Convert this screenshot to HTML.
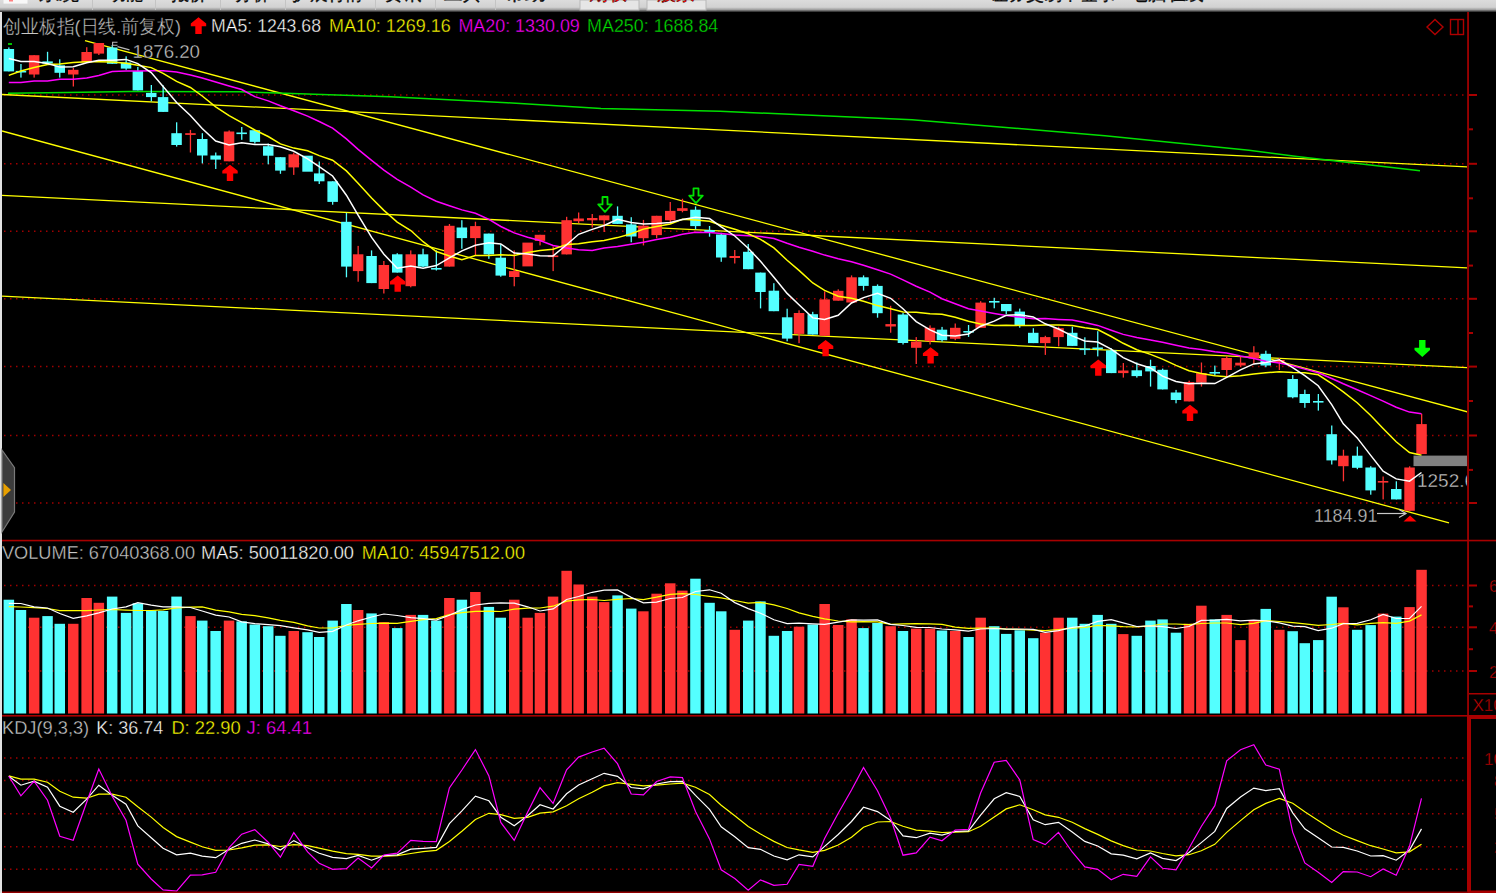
<!DOCTYPE html>
<html><head><meta charset="utf-8"><style>
html,body{margin:0;padding:0;background:#000;width:1496px;height:893px;overflow:hidden}
svg{display:block}
text{font-family:"Liberation Sans",sans-serif;stroke:#000;stroke-width:0.35px}
</style></head><body>
<svg width="1496" height="893" viewBox="0 0 1496 893">
<rect width="1496" height="893" fill="#000"/>
<defs><linearGradient id="mb" x1="0" y1="0" x2="0" y2="1"><stop offset="0" stop-color="#dcdcdc"/><stop offset="0.6" stop-color="#d2d2d2"/><stop offset="0.8" stop-color="#a0a0a0"/><stop offset="1" stop-color="#202020"/></linearGradient><clipPath id="mbclip"><rect x="0" y="0" width="1496" height="12"/></clipPath><clipPath id="main"><rect x="2" y="12" width="1465" height="528"/></clipPath><clipPath id="vol"><rect x="2" y="541" width="1465" height="174"/></clipPath><clipPath id="kdj"><rect x="2" y="717" width="1465" height="176"/></clipPath></defs>
<rect x="0" y="0" width="1496" height="12" fill="url(#mb)"/>
<g clip-path="url(#mbclip)">
<rect x="3.5" y="0" width="24" height="3.6" fill="#f8f8f8"/><rect x="9" y="0" width="4" height="1.5" fill="#ff8080"/>
<text x="39" y="0.3" fill="#111" font-size="18" textLength="40" lengthAdjust="spacingAndGlyphs">系统</text>
<text x="109" y="0.3" fill="#111" font-size="18" textLength="34" lengthAdjust="spacingAndGlyphs">功能</text>
<text x="171" y="0.3" fill="#111" font-size="18" textLength="36" lengthAdjust="spacingAndGlyphs">报价</text>
<text x="235" y="0.3" fill="#111" font-size="18" textLength="34" lengthAdjust="spacingAndGlyphs">分析</text>
<text x="292" y="0.3" fill="#111" font-size="18" textLength="71" lengthAdjust="spacingAndGlyphs">扩展行情</text>
<text x="384" y="0.3" fill="#111" font-size="18" textLength="37" lengthAdjust="spacingAndGlyphs">资讯</text>
<text x="444" y="0.3" fill="#111" font-size="18" textLength="37" lengthAdjust="spacingAndGlyphs">工具</text>
<text x="504" y="0.3" fill="#111" font-size="18" textLength="42" lengthAdjust="spacingAndGlyphs">帮助</text>
<rect x="92" y="0" width="1" height="10" fill="#c4c4c4"/>
<rect x="155" y="0" width="1" height="10" fill="#c4c4c4"/>
<rect x="220" y="0" width="1" height="10" fill="#c4c4c4"/>
<rect x="285" y="0" width="1" height="10" fill="#c4c4c4"/>
<rect x="375" y="0" width="1" height="10" fill="#c4c4c4"/>
<rect x="435" y="0" width="1" height="10" fill="#c4c4c4"/>
<rect x="495" y="0" width="1" height="10" fill="#c4c4c4"/>
<rect x="580" y="0" width="59" height="10" fill="#e6e6e6" stroke="#b8b8b8" stroke-width="1"/><rect x="647" y="0" width="59" height="10" fill="#e6e6e6" stroke="#b8b8b8" stroke-width="1"/>
<text x="589" y="0.3" fill="#ff0000" font-size="18" textLength="38" lengthAdjust="spacingAndGlyphs">期权</text>
<text x="657" y="0.3" fill="#ff0000" font-size="18" textLength="38" lengthAdjust="spacingAndGlyphs">股票</text>
<text x="990" y="0.3" fill="#111" font-size="18" textLength="126" lengthAdjust="spacingAndGlyphs">证券交易中登录</text>
<text x="1129" y="0.3" fill="#111" font-size="18" textLength="75" lengthAdjust="spacingAndGlyphs">电脑在线</text>
</g>
<rect x="0" y="12" width="2" height="881" fill="#e2e2e2"/>
<line x1="4" y1="95" x2="1466" y2="95" stroke="#a00000" stroke-width="1.5" stroke-dasharray="1.5 4.5"/>
<line x1="4" y1="163.8" x2="1466" y2="163.8" stroke="#a00000" stroke-width="1.5" stroke-dasharray="1.5 4.5"/>
<line x1="4" y1="231.3" x2="1466" y2="231.3" stroke="#a00000" stroke-width="1.5" stroke-dasharray="1.5 4.5"/>
<line x1="4" y1="298.8" x2="1466" y2="298.8" stroke="#a00000" stroke-width="1.5" stroke-dasharray="1.5 4.5"/>
<line x1="4" y1="366.6" x2="1466" y2="366.6" stroke="#a00000" stroke-width="1.5" stroke-dasharray="1.5 4.5"/>
<line x1="4" y1="435.5" x2="1466" y2="435.5" stroke="#a00000" stroke-width="1.5" stroke-dasharray="1.5 4.5"/>
<line x1="4" y1="503" x2="1466" y2="503" stroke="#a00000" stroke-width="1.5" stroke-dasharray="1.5 4.5"/>
<line x1="4" y1="585.5" x2="1466" y2="585.5" stroke="#a00000" stroke-width="1.5" stroke-dasharray="1.5 4.5"/>
<line x1="4" y1="627.3" x2="1466" y2="627.3" stroke="#a00000" stroke-width="1.5" stroke-dasharray="1.5 4.5"/>
<line x1="4" y1="671" x2="1466" y2="671" stroke="#a00000" stroke-width="1.5" stroke-dasharray="1.5 4.5"/>
<line x1="4" y1="758" x2="1466" y2="758" stroke="#a00000" stroke-width="1.5" stroke-dasharray="1.5 4.5"/>
<line x1="4" y1="780.4" x2="1466" y2="780.4" stroke="#a00000" stroke-width="1.5" stroke-dasharray="1.5 4.5"/>
<line x1="4" y1="813.7" x2="1466" y2="813.7" stroke="#a00000" stroke-width="1.5" stroke-dasharray="1.5 4.5"/>
<line x1="4" y1="846.8" x2="1466" y2="846.8" stroke="#a00000" stroke-width="1.5" stroke-dasharray="1.5 4.5"/>
<line x1="4" y1="869.3" x2="1466" y2="869.3" stroke="#a00000" stroke-width="1.5" stroke-dasharray="1.5 4.5"/>
<rect x="2" y="539.75" width="1494" height="1.6" fill="#a80000"/>
<rect x="2" y="715" width="1494" height="1.6" fill="#a80000"/>
<rect x="1467.2" y="12" width="1.7" height="881" fill="#a80000"/>
<rect x="1469" y="94" width="8" height="2" fill="#a80000"/>
<rect x="1469" y="162.8" width="8" height="2" fill="#a80000"/>
<rect x="1469" y="230.3" width="8" height="2" fill="#a80000"/>
<rect x="1469" y="297.8" width="8" height="2" fill="#a80000"/>
<rect x="1469" y="365.6" width="8" height="2" fill="#a80000"/>
<rect x="1469" y="434.5" width="8" height="2" fill="#a80000"/>
<rect x="1469" y="502" width="8" height="2" fill="#a80000"/>
<rect x="1469" y="128.3" width="4" height="2" fill="#a80000"/>
<rect x="1469" y="197.3" width="4" height="2" fill="#a80000"/>
<rect x="1469" y="264.6" width="4" height="2" fill="#a80000"/>
<rect x="1469" y="332" width="4" height="2" fill="#a80000"/>
<rect x="1469" y="400" width="4" height="2" fill="#a80000"/>
<rect x="1469" y="468.9" width="4" height="2" fill="#a80000"/>
<rect x="1469" y="584.5" width="8" height="2" fill="#a80000"/>
<rect x="1469" y="626.3" width="8" height="2" fill="#a80000"/>
<rect x="1469" y="670" width="8" height="2" fill="#a80000"/>
<rect x="1469" y="605.4" width="4" height="2" fill="#a80000"/>
<rect x="1469" y="648.2" width="4" height="2" fill="#a80000"/>
<g clip-path="url(#main)">
<line x1="2" y1="94.5" x2="1468" y2="167" stroke="#ffff00" stroke-width="1.3"/>
<line x1="2" y1="195.3" x2="1468" y2="268" stroke="#ffff00" stroke-width="1.3"/>
<line x1="2" y1="296.2" x2="1468" y2="367.6" stroke="#ffff00" stroke-width="1.3"/>
<line x1="85" y1="40.6" x2="1468" y2="412" stroke="#ffff00" stroke-width="1.3"/>
<line x1="2" y1="131" x2="1449" y2="522.8" stroke="#ffff00" stroke-width="1.3"/>
<polyline fill="none" stroke="#00e000" stroke-width="1.5" points="8,93.3 66,92.5 130,91.5 240,91.7 390,96.7 507,102.8 601,108.4 720,111.2 912,119.8 1105,135.7 1249,150.2 1297,156.4 1420,170.8"/>
</g>
<g clip-path="url(#main)">
<rect x="8.2" y="47.4" width="1.3" height="24" fill="#54ffff"/>
<rect x="3.6" y="49" width="10.5" height="22.4" fill="#54ffff"/>
<rect x="20.3" y="64" width="1.3" height="13.6" fill="#54ffff"/>
<rect x="15.7" y="70.9" width="10.5" height="1.6" fill="#54ffff"/>
<rect x="33.5" y="55.2" width="1.3" height="22.4" fill="#ff3232"/>
<rect x="28.9" y="55.2" width="10.5" height="19.3" fill="#ff3232"/>
<rect x="46.9" y="51.8" width="1.3" height="11.8" fill="#54ffff"/>
<rect x="42.3" y="61.4" width="10.5" height="2.2" fill="#54ffff"/>
<rect x="59.1" y="59.3" width="1.3" height="18.3" fill="#54ffff"/>
<rect x="54.5" y="65.3" width="10.5" height="7.5" fill="#54ffff"/>
<rect x="72.7" y="68" width="1.3" height="18.5" fill="#ff3232"/>
<rect x="68" y="69.8" width="10.5" height="4.7" fill="#ff3232"/>
<rect x="86.1" y="47.2" width="1.3" height="15" fill="#ff3232"/>
<rect x="81.4" y="52" width="10.5" height="10.2" fill="#ff3232"/>
<rect x="98.2" y="43" width="1.3" height="12" fill="#ff3232"/>
<rect x="93.6" y="43" width="10.5" height="10.6" fill="#ff3232"/>
<rect x="111.6" y="45" width="1.3" height="18.8" fill="#54ffff"/>
<rect x="106.9" y="47.5" width="10.5" height="16.3" fill="#54ffff"/>
<rect x="125.5" y="56.3" width="1.3" height="13.5" fill="#54ffff"/>
<rect x="120.8" y="62.5" width="10.5" height="6.1" fill="#54ffff"/>
<rect x="137.2" y="66.9" width="1.3" height="23.5" fill="#54ffff"/>
<rect x="132.6" y="71" width="10.5" height="19.4" fill="#54ffff"/>
<rect x="150.7" y="85" width="1.3" height="16.3" fill="#54ffff"/>
<rect x="146" y="92.9" width="10.5" height="4.2" fill="#54ffff"/>
<rect x="162.5" y="85.3" width="1.3" height="26.6" fill="#54ffff"/>
<rect x="157.8" y="97.1" width="10.5" height="14.8" fill="#54ffff"/>
<rect x="176" y="122.3" width="1.3" height="24.3" fill="#54ffff"/>
<rect x="171.3" y="133.2" width="10.5" height="11.8" fill="#54ffff"/>
<rect x="189.8" y="129.9" width="1.3" height="22.6" fill="#ff3232"/>
<rect x="185.2" y="133.2" width="10.5" height="1.7" fill="#ff3232"/>
<rect x="201.7" y="133.2" width="1.3" height="30.2" fill="#54ffff"/>
<rect x="197" y="139" width="10.5" height="16.5" fill="#54ffff"/>
<rect x="215.1" y="152.5" width="1.3" height="16.5" fill="#54ffff"/>
<rect x="210.4" y="155.5" width="10.5" height="4.1" fill="#54ffff"/>
<rect x="228.5" y="130.4" width="1.3" height="30.9" fill="#ff3232"/>
<rect x="223.8" y="131.5" width="10.5" height="29.8" fill="#ff3232"/>
<rect x="241.1" y="127" width="1.3" height="12.8" fill="#54ffff"/>
<rect x="236.4" y="132.5" width="10.5" height="1.6" fill="#54ffff"/>
<rect x="254.2" y="130.2" width="1.3" height="13.4" fill="#54ffff"/>
<rect x="249.6" y="130.2" width="10.5" height="11.7" fill="#54ffff"/>
<rect x="267.6" y="143.6" width="1.3" height="20.7" fill="#54ffff"/>
<rect x="263" y="146.2" width="10.5" height="9.5" fill="#54ffff"/>
<rect x="279.8" y="157.2" width="1.3" height="16.6" fill="#54ffff"/>
<rect x="275.1" y="157.2" width="10.5" height="13.4" fill="#54ffff"/>
<rect x="293.1" y="152.6" width="1.3" height="22.3" fill="#ff3232"/>
<rect x="288.5" y="154.3" width="10.5" height="13.1" fill="#ff3232"/>
<rect x="302.3" y="155.7" width="10.5" height="16" fill="#54ffff"/>
<rect x="318.6" y="161.5" width="1.3" height="22.5" fill="#54ffff"/>
<rect x="314" y="173.4" width="10.5" height="7.9" fill="#54ffff"/>
<rect x="332" y="181.3" width="1.3" height="23.4" fill="#54ffff"/>
<rect x="327.4" y="181.3" width="10.5" height="20.6" fill="#54ffff"/>
<rect x="345.8" y="212.9" width="1.3" height="64.4" fill="#54ffff"/>
<rect x="341.1" y="221.8" width="10.5" height="44.8" fill="#54ffff"/>
<rect x="357.5" y="245.9" width="1.3" height="35.8" fill="#ff3232"/>
<rect x="352.9" y="254.3" width="10.5" height="16.8" fill="#ff3232"/>
<rect x="370.9" y="250.4" width="1.3" height="32.7" fill="#54ffff"/>
<rect x="366.3" y="256" width="10.5" height="27.1" fill="#54ffff"/>
<rect x="383.2" y="261" width="1.3" height="32.5" fill="#ff3232"/>
<rect x="378.6" y="265" width="10.5" height="24" fill="#ff3232"/>
<rect x="396.6" y="253.2" width="1.3" height="19.4" fill="#54ffff"/>
<rect x="392" y="254.3" width="10.5" height="18.3" fill="#54ffff"/>
<rect x="410.1" y="250.4" width="1.3" height="36.9" fill="#ff3232"/>
<rect x="405.5" y="254.3" width="10.5" height="31.9" fill="#ff3232"/>
<rect x="422.4" y="248.7" width="1.3" height="18.3" fill="#54ffff"/>
<rect x="417.8" y="254.3" width="10.5" height="12.3" fill="#54ffff"/>
<rect x="435.7" y="250.4" width="1.3" height="20.1" fill="#54ffff"/>
<rect x="431.1" y="268" width="10.5" height="1.6" fill="#54ffff"/>
<rect x="448.8" y="224" width="1.3" height="42.6" fill="#ff3232"/>
<rect x="444.1" y="225.8" width="10.5" height="40.8" fill="#ff3232"/>
<rect x="461.2" y="220.2" width="1.3" height="28.6" fill="#54ffff"/>
<rect x="456.6" y="227.5" width="10.5" height="10.6" fill="#54ffff"/>
<rect x="474.8" y="221.7" width="1.3" height="34.3" fill="#ff3232"/>
<rect x="470.1" y="226.1" width="10.5" height="12" fill="#ff3232"/>
<rect x="488.2" y="233.6" width="1.3" height="25.2" fill="#54ffff"/>
<rect x="483.6" y="233.6" width="10.5" height="20.8" fill="#54ffff"/>
<rect x="500.1" y="244.3" width="1.3" height="32.4" fill="#54ffff"/>
<rect x="495.5" y="257.7" width="10.5" height="17.9" fill="#54ffff"/>
<rect x="513.6" y="250.4" width="1.3" height="35.9" fill="#ff3232"/>
<rect x="509" y="271.1" width="10.5" height="5.9" fill="#ff3232"/>
<rect x="522.4" y="242.6" width="10.5" height="23.8" fill="#ff3232"/>
<rect x="539.4" y="234.8" width="1.3" height="10.6" fill="#ff3232"/>
<rect x="534.7" y="234.8" width="10.5" height="6.1" fill="#ff3232"/>
<rect x="552.5" y="246.5" width="1.3" height="24.6" fill="#ff3232"/>
<rect x="547.8" y="255.5" width="10.5" height="1.6" fill="#ff3232"/>
<rect x="566" y="216.8" width="1.3" height="37.6" fill="#ff3232"/>
<rect x="561.4" y="220.2" width="10.5" height="34.2" fill="#ff3232"/>
<rect x="578" y="212.5" width="1.3" height="10.5" fill="#ff3232"/>
<rect x="573.4" y="218.5" width="10.5" height="2.7" fill="#ff3232"/>
<rect x="591.6" y="214" width="1.3" height="13.5" fill="#ff3232"/>
<rect x="587" y="218" width="10.5" height="2.3" fill="#ff3232"/>
<rect x="603.5" y="215.4" width="1.3" height="16.6" fill="#ff3232"/>
<rect x="598.9" y="215.4" width="10.5" height="4.9" fill="#ff3232"/>
<rect x="616.9" y="206.4" width="1.3" height="17.5" fill="#54ffff"/>
<rect x="612.3" y="215.8" width="10.5" height="8.1" fill="#54ffff"/>
<rect x="630.6" y="217.2" width="1.3" height="25.1" fill="#54ffff"/>
<rect x="626" y="224.4" width="10.5" height="12.1" fill="#54ffff"/>
<rect x="642.8" y="219.9" width="1.3" height="25.5" fill="#ff3232"/>
<rect x="638.1" y="225.7" width="10.5" height="12.5" fill="#ff3232"/>
<rect x="656" y="215.8" width="1.3" height="22.4" fill="#ff3232"/>
<rect x="651.4" y="215.8" width="10.5" height="19.3" fill="#ff3232"/>
<rect x="669.6" y="202" width="1.3" height="21" fill="#ff3232"/>
<rect x="665" y="210.9" width="10.5" height="9.4" fill="#ff3232"/>
<rect x="681.8" y="198.8" width="1.3" height="13.5" fill="#ff3232"/>
<rect x="677.1" y="208.2" width="10.5" height="2.7" fill="#ff3232"/>
<rect x="694.9" y="206.4" width="1.3" height="22.9" fill="#54ffff"/>
<rect x="690.2" y="209.7" width="10.5" height="16.4" fill="#54ffff"/>
<rect x="708.9" y="226" width="1.3" height="10.7" fill="#54ffff"/>
<rect x="704.3" y="230" width="10.5" height="2" fill="#54ffff"/>
<rect x="720.6" y="232.8" width="1.3" height="29" fill="#54ffff"/>
<rect x="716" y="234.5" width="10.5" height="23" fill="#54ffff"/>
<rect x="734.1" y="250" width="1.3" height="13.5" fill="#ff3232"/>
<rect x="729.5" y="256" width="10.5" height="2" fill="#ff3232"/>
<rect x="747.6" y="244" width="1.3" height="25.2" fill="#54ffff"/>
<rect x="743" y="251.8" width="10.5" height="17.4" fill="#54ffff"/>
<rect x="759.9" y="272.6" width="1.3" height="35.8" fill="#54ffff"/>
<rect x="755.2" y="272.6" width="10.5" height="19.4" fill="#54ffff"/>
<rect x="773.2" y="283.2" width="1.3" height="28" fill="#54ffff"/>
<rect x="768.6" y="290.7" width="10.5" height="20.5" fill="#54ffff"/>
<rect x="786.5" y="308.7" width="1.3" height="32.6" fill="#54ffff"/>
<rect x="781.9" y="317.3" width="10.5" height="21.3" fill="#54ffff"/>
<rect x="798.4" y="310.3" width="1.3" height="32.9" fill="#ff3232"/>
<rect x="793.8" y="313" width="10.5" height="20.9" fill="#ff3232"/>
<rect x="812.1" y="311.8" width="1.3" height="22.8" fill="#54ffff"/>
<rect x="807.5" y="314.2" width="10.5" height="20.4" fill="#54ffff"/>
<rect x="824" y="291.4" width="1.3" height="44.4" fill="#ff3232"/>
<rect x="819.4" y="299.4" width="10.5" height="36.4" fill="#ff3232"/>
<rect x="837.6" y="289.3" width="1.3" height="11.4" fill="#ff3232"/>
<rect x="833" y="290.8" width="10.5" height="9.9" fill="#ff3232"/>
<rect x="850.9" y="275.4" width="1.3" height="27.1" fill="#ff3232"/>
<rect x="846.3" y="277.3" width="10.5" height="25.2" fill="#ff3232"/>
<rect x="862.9" y="275.4" width="1.3" height="15.2" fill="#54ffff"/>
<rect x="858.2" y="277.3" width="10.5" height="8.6" fill="#54ffff"/>
<rect x="876.9" y="284.4" width="1.3" height="33.3" fill="#54ffff"/>
<rect x="872.2" y="285.9" width="10.5" height="27.3" fill="#54ffff"/>
<rect x="890" y="305.8" width="1.3" height="26.9" fill="#ff3232"/>
<rect x="885.4" y="324.1" width="10.5" height="2.4" fill="#ff3232"/>
<rect x="902.4" y="313" width="1.3" height="31.5" fill="#54ffff"/>
<rect x="897.7" y="314.5" width="10.5" height="28.5" fill="#54ffff"/>
<rect x="915.6" y="337.1" width="1.3" height="26.9" fill="#ff3232"/>
<rect x="911" y="341.6" width="10.5" height="6.2" fill="#ff3232"/>
<rect x="929.4" y="325.4" width="1.3" height="19.1" fill="#ff3232"/>
<rect x="924.7" y="327.8" width="10.5" height="13.3" fill="#ff3232"/>
<rect x="941.4" y="326.9" width="1.3" height="14.7" fill="#54ffff"/>
<rect x="936.7" y="329.7" width="10.5" height="10.5" fill="#54ffff"/>
<rect x="954.6" y="323.5" width="1.3" height="16.7" fill="#ff3232"/>
<rect x="950" y="327.8" width="10.5" height="11" fill="#ff3232"/>
<rect x="967.9" y="325" width="1.3" height="11.9" fill="#54ffff"/>
<rect x="963.3" y="331" width="10.5" height="1.6" fill="#54ffff"/>
<rect x="980" y="301.2" width="1.3" height="26.6" fill="#ff3232"/>
<rect x="975.4" y="302.6" width="10.5" height="25.2" fill="#ff3232"/>
<rect x="993.6" y="297.8" width="1.3" height="10.5" fill="#54ffff"/>
<rect x="989" y="301" width="10.5" height="1.6" fill="#54ffff"/>
<rect x="1005.6" y="304" width="1.3" height="10" fill="#54ffff"/>
<rect x="1001" y="304" width="10.5" height="7.2" fill="#54ffff"/>
<rect x="1019.1" y="308.6" width="1.3" height="19.1" fill="#54ffff"/>
<rect x="1014.5" y="311.6" width="10.5" height="13.6" fill="#54ffff"/>
<rect x="1032.7" y="328.2" width="1.3" height="14.9" fill="#54ffff"/>
<rect x="1028" y="332.8" width="10.5" height="10.3" fill="#54ffff"/>
<rect x="1044.7" y="335.8" width="1.3" height="19.1" fill="#ff3232"/>
<rect x="1040" y="337.1" width="10.5" height="6" fill="#ff3232"/>
<rect x="1058" y="326.7" width="1.3" height="19.7" fill="#ff3232"/>
<rect x="1053.3" y="328.2" width="10.5" height="8.9" fill="#ff3232"/>
<rect x="1071.7" y="326.7" width="1.3" height="19.2" fill="#54ffff"/>
<rect x="1067" y="332.8" width="10.5" height="13.1" fill="#54ffff"/>
<rect x="1084.2" y="337.3" width="1.3" height="17.6" fill="#54ffff"/>
<rect x="1079.5" y="348.5" width="10.5" height="1.6" fill="#54ffff"/>
<rect x="1097.1" y="331.2" width="1.3" height="25.2" fill="#54ffff"/>
<rect x="1092.4" y="347.5" width="10.5" height="1.6" fill="#54ffff"/>
<rect x="1110.7" y="348.4" width="1.3" height="24.7" fill="#54ffff"/>
<rect x="1106" y="350.4" width="10.5" height="22.7" fill="#54ffff"/>
<rect x="1122.7" y="363" width="1.3" height="14.6" fill="#ff3232"/>
<rect x="1118" y="370.5" width="10.5" height="2.6" fill="#ff3232"/>
<rect x="1136.2" y="362.5" width="1.3" height="15.1" fill="#54ffff"/>
<rect x="1131.5" y="370.3" width="10.5" height="5.8" fill="#54ffff"/>
<rect x="1149.9" y="359.7" width="1.3" height="26.9" fill="#54ffff"/>
<rect x="1145.2" y="366" width="10.5" height="5.4" fill="#54ffff"/>
<rect x="1162" y="368.6" width="1.3" height="20.8" fill="#54ffff"/>
<rect x="1157.3" y="369.8" width="10.5" height="19.6" fill="#54ffff"/>
<rect x="1175.4" y="389.9" width="1.3" height="13.4" fill="#54ffff"/>
<rect x="1170.7" y="392.5" width="10.5" height="7.5" fill="#54ffff"/>
<rect x="1188.5" y="380.6" width="1.3" height="20.8" fill="#ff3232"/>
<rect x="1183.8" y="382.1" width="10.5" height="19.3" fill="#ff3232"/>
<rect x="1200.8" y="362.5" width="1.3" height="24.1" fill="#ff3232"/>
<rect x="1196.1" y="373.1" width="10.5" height="9.5" fill="#ff3232"/>
<rect x="1214.2" y="365.6" width="1.3" height="10.3" fill="#54ffff"/>
<rect x="1209.5" y="372" width="10.5" height="1.6" fill="#54ffff"/>
<rect x="1226.1" y="356" width="1.3" height="20.2" fill="#ff3232"/>
<rect x="1221.4" y="358" width="10.5" height="12" fill="#ff3232"/>
<rect x="1239.9" y="356.3" width="1.3" height="10.6" fill="#ff3232"/>
<rect x="1235.2" y="362.7" width="10.5" height="2.8" fill="#ff3232"/>
<rect x="1253.2" y="346.2" width="1.3" height="17.9" fill="#ff3232"/>
<rect x="1248.6" y="352.4" width="10.5" height="6.1" fill="#ff3232"/>
<rect x="1265.2" y="350.7" width="1.3" height="16.5" fill="#54ffff"/>
<rect x="1260.5" y="353.8" width="10.5" height="11.7" fill="#54ffff"/>
<rect x="1278.7" y="358" width="1.3" height="12" fill="#ff3232"/>
<rect x="1274.1" y="360" width="10.5" height="2" fill="#ff3232"/>
<rect x="1292.1" y="375" width="1.3" height="23.3" fill="#54ffff"/>
<rect x="1287.4" y="379" width="10.5" height="18.3" fill="#54ffff"/>
<rect x="1304.2" y="389.7" width="1.3" height="18.1" fill="#54ffff"/>
<rect x="1299.5" y="394" width="10.5" height="9" fill="#54ffff"/>
<rect x="1317.7" y="394" width="1.3" height="16.6" fill="#54ffff"/>
<rect x="1313" y="401" width="10.5" height="1.6" fill="#54ffff"/>
<rect x="1331.1" y="425.5" width="1.3" height="39" fill="#54ffff"/>
<rect x="1326.4" y="434.2" width="10.5" height="26.2" fill="#54ffff"/>
<rect x="1342.8" y="449.7" width="1.3" height="31.6" fill="#ff3232"/>
<rect x="1338.1" y="455.7" width="10.5" height="10.5" fill="#ff3232"/>
<rect x="1356.7" y="446.6" width="1.3" height="22.6" fill="#54ffff"/>
<rect x="1352" y="455.7" width="10.5" height="12.1" fill="#54ffff"/>
<rect x="1370.1" y="466.2" width="1.3" height="28.5" fill="#54ffff"/>
<rect x="1365.4" y="467.5" width="10.5" height="22.9" fill="#54ffff"/>
<rect x="1382.5" y="476.5" width="1.3" height="22.9" fill="#ff3232"/>
<rect x="1377.8" y="481" width="10.5" height="1.6" fill="#ff3232"/>
<rect x="1395.7" y="481.3" width="1.3" height="18.1" fill="#54ffff"/>
<rect x="1391" y="489" width="10.5" height="10.4" fill="#54ffff"/>
<rect x="1409" y="466.3" width="1.3" height="44.7" fill="#ff3232"/>
<rect x="1404.3" y="467.5" width="10.5" height="43.3" fill="#ff3232"/>
<rect x="1421" y="413.8" width="1.3" height="40.3" fill="#ff3232"/>
<rect x="1416.3" y="424.1" width="10.5" height="30" fill="#ff3232"/>
</g>
<polyline clip-path="url(#main)" fill="none" stroke="#ff00ff" stroke-width="1.5" points="8.8,82.6 20.9,82.6 34.1,81 47.5,81 59.8,79.3 73.2,79.3 86.7,78 98.8,75.5 112.2,71.5 126,70.9 137.8,70.9 151.2,70.8 163.1,70.7 176.6,72 190.4,75 202.2,78 215.7,82 229.1,86 241.7,89.5 254.8,96.6 268.2,100.9 280.4,105.8 293.8,110.7 307.6,116.1 319.2,121.5 332.6,128.2 346.4,138.9 358.1,149.4 371.6,160.4 383.9,170.2 397.2,179.3 410.8,187.2 423.1,194.9 436.3,201.2 449.4,205.8 461.9,209.9 475.4,213.2 488.9,219.4 500.8,226.5 514.2,232.9 527.6,237.3 540,240.5 553.1,245.5 566.6,248 578.6,249.8 592.2,250.6 604.1,248.1 617.5,246.6 631.2,244.2 643.4,242.3 656.6,239.4 670.2,237.2 682.4,234.3 695.5,232.2 709.5,232.5 721.2,233.4 734.8,234.9 748.2,235.7 760.5,236.5 773.9,238.5 787.1,243.3 799,247.2 812.8,251.2 824.6,255.1 838.2,258.7 851.5,261.7 863.5,265.2 877.5,269.7 890.6,274.1 903,279.9 916.2,286.2 930,292.1 942,298.7 955.2,303.8 968.5,308.8 980.6,311 994.2,313.4 1006.2,315.5 1019.8,317.1 1033.2,318.7 1045.2,318.6 1058.5,319.4 1072.2,320 1084.8,322.5 1097.7,325.4 1111.2,330.2 1123.2,334.4 1136.8,337.6 1150.5,339.9 1162.5,342.3 1176,345.2 1189,347.9 1201.3,349.5 1214.8,351.8 1226.7,353.1 1240.5,356.1 1253.8,358.6 1265.8,361.3 1279.3,363.1 1292.7,365.8 1304.8,369.1 1318.2,372.8 1331.7,378.5 1343.3,383.8 1357.2,389.7 1370.7,395.6 1383.1,401.1 1396.2,407.3 1409.5,412.1 1421.5,413.8"/>
<polyline clip-path="url(#main)" fill="none" stroke="#ffff00" stroke-width="1.5" points="8.8,75.4 20.9,71 34.1,67.5 47.5,64.5 59.8,64 73.2,62.5 86.7,61.8 98.8,61.7 112.2,62 126,63.3 137.8,65.2 151.2,67.6 163.1,73.3 176.6,81.4 190.4,87.5 202.2,96 215.7,106.8 229.1,115.7 241.7,122.7 254.8,130 268.2,136.5 280.4,143.9 293.8,148.1 307.6,150.8 319.2,155.6 332.6,160.2 346.4,170.9 358.1,183.2 371.6,198.1 383.9,210.4 397.2,222.1 410.8,230.5 423.1,241.7 436.3,251.5 449.4,256 461.9,259.6 475.4,255.5 488.9,255.6 500.8,254.8 514.2,255.4 527.6,252.4 540,250.5 553.1,249.3 566.6,244.4 578.6,243.7 592.2,241.7 604.1,240.6 617.5,237.6 631.2,233.7 643.4,229.1 656.6,226.4 670.2,224 682.4,219.3 695.5,219.9 709.5,221.2 721.2,225.2 734.8,229.3 748.2,233.8 760.5,239.3 773.9,247.9 787.1,260.2 799,270.4 812.8,283 824.6,290.4 838.2,296.2 851.5,298.2 863.5,301.2 877.5,305.6 890.6,308.8 903,312 916.2,312.3 930,313.8 942,314.3 955.2,317.2 968.5,321.3 980.6,323.9 994.2,325.5 1006.2,325.3 1019.8,325.4 1033.2,325.4 1045.2,325 1058.5,325 1072.2,325.6 1084.8,327.8 1097.7,329.5 1111.2,336.5 1123.2,343.3 1136.8,349.8 1150.5,354.4 1162.5,359.1 1176,365.4 1189,370.8 1201.3,373.5 1214.8,375.8 1226.7,376.7 1240.5,375.7 1253.8,373.9 1265.8,372.8 1279.3,371.7 1292.7,372.5 1304.8,372.8 1318.2,374.8 1331.7,383.5 1343.3,391.8 1357.2,402.7 1370.7,415.5 1383.1,428.4 1396.2,441.8 1409.5,452.5 1421.5,455.2"/>
<polyline clip-path="url(#main)" fill="none" stroke="#ffffff" stroke-width="1.5" points="8.8,58.6 20.9,61.4 34.1,61.4 47.5,63.6 59.8,67.1 73.2,66.8 86.7,62.7 98.8,60.2 112.2,60.3 126,59.4 137.8,63.6 151.2,72.6 163.1,86.4 176.6,102.6 190.4,115.5 202.2,128.5 215.7,141 229.1,145 241.7,142.8 254.8,144.5 268.2,144.5 280.4,146.7 293.8,151.3 307.6,158.8 319.2,166.7 332.6,176 346.4,195.2 358.1,215.2 371.6,237.4 383.9,254.2 397.2,268.3 410.8,265.9 423.1,268.3 436.3,265.6 449.4,257.8 461.9,250.9 475.4,245.2 488.9,242.8 500.8,244 514.2,253.1 527.6,254 540,255.7 553.1,255.9 566.6,244.8 578.6,234.3 592.2,229.4 604.1,225.5 617.5,219.2 631.2,222.5 643.4,223.9 656.6,223.5 670.2,222.6 682.4,219.4 695.5,217.3 709.5,218.6 721.2,226.9 734.8,236 748.2,248.2 760.5,261.3 773.9,277.2 787.1,293.4 799,304.8 812.8,317.9 824.6,319.4 838.2,315.3 851.5,303 863.5,297.6 877.5,293.3 890.6,298.3 903,308.7 916.2,321.6 930,329.9 942,335.3 955.2,336.1 968.5,334 980.6,326.2 994.2,321.1 1006.2,315.3 1019.8,314.8 1033.2,316.9 1045.2,323.8 1058.5,329 1072.2,335.9 1084.8,340.9 1097.7,342 1111.2,349.2 1123.2,357.7 1136.8,363.7 1150.5,368 1162.5,376.1 1176,381.5 1189,383.8 1201.3,383.2 1214.8,383.6 1226.7,377.3 1240.5,369.9 1253.8,363.9 1265.8,362.4 1279.3,359.7 1292.7,367.6 1304.8,375.6 1318.2,385.7 1331.7,404.6 1343.3,423.8 1357.2,437.9 1370.7,455.4 1383.1,471.1 1396.2,478.9 1409.5,481.2 1421.5,472.5"/>
<polygon fill="#ff0000" points="230,164.8 237.7,170.8 237.7,173.6 233.2,173.6 233.2,181 226.8,181 226.8,173.6 222.3,173.6 222.3,170.8"/>
<polygon fill="#ff0000" points="397.7,275.6 405.4,281.6 405.4,284.4 400.9,284.4 400.9,291.8 394.5,291.8 394.5,284.4 390,284.4 390,281.6"/>
<polygon fill="#ff0000" points="825.6,340.1 833.3,346.1 833.3,348.9 828.8,348.9 828.8,356.3 822.4,356.3 822.4,348.9 817.9,348.9 817.9,346.1"/>
<polygon fill="#ff0000" points="930.6,347.3 938.3,353.3 938.3,356.1 933.8,356.1 933.8,363.5 927.4,363.5 927.4,356.1 922.9,356.1 922.9,353.3"/>
<polygon fill="#ff0000" points="1098.3,359.5 1106,365.5 1106,368.3 1101.5,368.3 1101.5,375.7 1095.1,375.7 1095.1,368.3 1090.6,368.3 1090.6,365.5"/>
<polygon fill="#ff0000" points="1190,404.8 1197.7,410.8 1197.7,413.6 1193.2,413.6 1193.2,421 1186.8,421 1186.8,413.6 1182.3,413.6 1182.3,410.8"/>
<polygon fill="none" stroke="#00e000" stroke-width="1.8" stroke-linejoin="round" points="605,211.8 611.8,204.4 607.5,204.4 607.5,197 602.5,197 602.5,204.4 598.2,204.4"/>
<polygon fill="none" stroke="#00e000" stroke-width="1.8" stroke-linejoin="round" points="696,203.1 702.8,195.7 698.5,195.7 698.5,188.3 693.5,188.3 693.5,195.7 689.2,195.7"/>
<polygon fill="#00ff00" points="1419.1,340.1 1425.5,340.1 1425.5,347.8 1430,347.8 1430,350.1 1422.3,356.9 1414.5,350.1 1414.5,347.8 1419.1,347.8"/>
<rect x="8" y="43" width="4" height="2" fill="#00c000"/>
<rect x="1413.5" y="455.6" width="53.5" height="10.5" fill="#808080"/>
<text x="132.5" y="57.5" fill="#c8c8c8" font-size="18" textLength="67.5" lengthAdjust="spacingAndGlyphs">1876.20</text>
<path fill="none" stroke="#b8b8b8" stroke-width="1.1" d="M117.5 42.3H112.6V46.3M112.6 45.2H117.5M117.5 46.6L129.5 49.9"/>
<text x="1314" y="521.5" fill="#c8c8c8" font-size="18" textLength="63.5" lengthAdjust="spacingAndGlyphs">1184.91</text>
<line x1="1377" y1="513.5" x2="1406" y2="513.5" stroke="#c8c8c8" stroke-width="1.2"/>
<polyline fill="none" stroke="#c8c8c8" stroke-width="1.2" points="1399,509.5 1406,513.5 1399,517.5"/>
<polygon fill="#ff0000" points="1410,515.5 1416.5,521.5 1403.5,521.5"/>
<g clip-path="url(#main)">
<text x="1417" y="487" fill="#c8c8c8" font-size="18" textLength="58" lengthAdjust="spacingAndGlyphs">1252.6</text>
</g>
<text x="3" y="33" fill="#c8c8c8" font-size="19" textLength="178" lengthAdjust="spacingAndGlyphs">创业板指(日线.前复权)</text>
<polygon fill="#ff0000" points="198.5,17.3 206.2,23.4 206.2,26.3 201.7,26.3 201.7,33.9 195.3,33.9 195.3,26.3 190.8,26.3 190.8,23.4"/>
<text x="211" y="32.3" fill="#ffffff" font-size="18" textLength="110" lengthAdjust="spacingAndGlyphs">MA5: 1243.68</text>
<text x="329" y="32.3" fill="#ffff00" font-size="18" textLength="121.7" lengthAdjust="spacingAndGlyphs">MA10: 1269.16</text>
<text x="458.4" y="32.3" fill="#ff00ff" font-size="18" textLength="121.4" lengthAdjust="spacingAndGlyphs">MA20: 1330.09</text>
<text x="587.1" y="32.3" fill="#00e000" font-size="18" textLength="131.2" lengthAdjust="spacingAndGlyphs">MA250: 1688.84</text>
<polygon fill="none" stroke="#b00000" stroke-width="1.4" points="1435,19.5 1443,27 1435,34.5 1427,27"/>
<rect x="1450.5" y="19.5" width="13" height="15" fill="none" stroke="#b00000" stroke-width="1.4"/>
<line x1="1458" y1="19.5" x2="1458" y2="34.5" stroke="#b00000" stroke-width="1.4"/>
<polygon fill="#3c3c3c" stroke="#7a7a7a" stroke-width="1.2" points="2,450 14.5,467.6 14.5,512 2,532"/>
<polygon fill="#e8a000" points="3.4,483 11,490 3.4,497"/>
<g clip-path="url(#vol)">
<rect x="3.6" y="599.7" width="10.5" height="113.8" fill="#54ffff"/>
<rect x="15.7" y="610" width="10.5" height="103.5" fill="#54ffff"/>
<rect x="28.9" y="617.7" width="10.5" height="95.8" fill="#ff3232"/>
<rect x="42.3" y="616.1" width="10.5" height="97.4" fill="#54ffff"/>
<rect x="54.5" y="623.8" width="10.5" height="89.7" fill="#54ffff"/>
<rect x="68" y="623.8" width="10.5" height="89.7" fill="#ff3232"/>
<rect x="81.4" y="598" width="10.5" height="115.5" fill="#ff3232"/>
<rect x="93.6" y="602.8" width="10.5" height="110.7" fill="#ff3232"/>
<rect x="106.9" y="596.6" width="10.5" height="116.9" fill="#54ffff"/>
<rect x="120.8" y="612.9" width="10.5" height="100.6" fill="#54ffff"/>
<rect x="132.6" y="603.3" width="10.5" height="110.2" fill="#54ffff"/>
<rect x="146" y="610.5" width="10.5" height="103" fill="#54ffff"/>
<rect x="157.8" y="611" width="10.5" height="102.5" fill="#54ffff"/>
<rect x="171.3" y="596.6" width="10.5" height="116.9" fill="#54ffff"/>
<rect x="185.2" y="616.1" width="10.5" height="97.4" fill="#ff3232"/>
<rect x="197" y="620.6" width="10.5" height="92.9" fill="#54ffff"/>
<rect x="210.4" y="631" width="10.5" height="82.5" fill="#54ffff"/>
<rect x="223.8" y="620.6" width="10.5" height="92.9" fill="#ff3232"/>
<rect x="236.4" y="621.4" width="10.5" height="92.1" fill="#54ffff"/>
<rect x="249.6" y="624.5" width="10.5" height="89" fill="#54ffff"/>
<rect x="263" y="626.2" width="10.5" height="87.3" fill="#54ffff"/>
<rect x="275.1" y="635.8" width="10.5" height="77.7" fill="#54ffff"/>
<rect x="288.5" y="631" width="10.5" height="82.5" fill="#ff3232"/>
<rect x="302.3" y="632.2" width="10.5" height="81.3" fill="#54ffff"/>
<rect x="314" y="637" width="10.5" height="76.5" fill="#54ffff"/>
<rect x="327.4" y="620.6" width="10.5" height="92.9" fill="#54ffff"/>
<rect x="341.1" y="604" width="10.5" height="109.5" fill="#54ffff"/>
<rect x="352.9" y="610" width="10.5" height="103.5" fill="#ff3232"/>
<rect x="366.3" y="613.4" width="10.5" height="100.1" fill="#54ffff"/>
<rect x="378.6" y="622.1" width="10.5" height="91.4" fill="#ff3232"/>
<rect x="392" y="628.1" width="10.5" height="85.4" fill="#54ffff"/>
<rect x="405.5" y="614.9" width="10.5" height="98.6" fill="#ff3232"/>
<rect x="417.8" y="614.9" width="10.5" height="98.6" fill="#54ffff"/>
<rect x="431.1" y="620.6" width="10.5" height="92.9" fill="#54ffff"/>
<rect x="444.1" y="598" width="10.5" height="115.5" fill="#ff3232"/>
<rect x="456.6" y="599.7" width="10.5" height="113.8" fill="#54ffff"/>
<rect x="470.1" y="592" width="10.5" height="121.5" fill="#ff3232"/>
<rect x="483.6" y="606.9" width="10.5" height="106.6" fill="#54ffff"/>
<rect x="495.5" y="617.7" width="10.5" height="95.8" fill="#54ffff"/>
<rect x="509" y="599.7" width="10.5" height="113.8" fill="#ff3232"/>
<rect x="522.4" y="617.7" width="10.5" height="95.8" fill="#ff3232"/>
<rect x="534.7" y="612.9" width="10.5" height="100.6" fill="#ff3232"/>
<rect x="547.8" y="596.6" width="10.5" height="116.9" fill="#ff3232"/>
<rect x="561.4" y="570.8" width="10.5" height="142.7" fill="#ff3232"/>
<rect x="573.4" y="584.5" width="10.5" height="129" fill="#ff3232"/>
<rect x="587" y="596.6" width="10.5" height="116.9" fill="#ff3232"/>
<rect x="598.9" y="602.1" width="10.5" height="111.4" fill="#ff3232"/>
<rect x="612.3" y="595.4" width="10.5" height="118.1" fill="#54ffff"/>
<rect x="626" y="608.6" width="10.5" height="104.9" fill="#54ffff"/>
<rect x="638.1" y="611.3" width="10.5" height="102.2" fill="#ff3232"/>
<rect x="651.4" y="593.7" width="10.5" height="119.8" fill="#ff3232"/>
<rect x="665" y="583.3" width="10.5" height="130.2" fill="#ff3232"/>
<rect x="677.1" y="590.6" width="10.5" height="122.9" fill="#ff3232"/>
<rect x="690.2" y="578.7" width="10.5" height="134.8" fill="#54ffff"/>
<rect x="704.3" y="602.8" width="10.5" height="110.7" fill="#54ffff"/>
<rect x="716" y="611.3" width="10.5" height="102.2" fill="#54ffff"/>
<rect x="729.5" y="629.8" width="10.5" height="83.7" fill="#ff3232"/>
<rect x="743" y="620.6" width="10.5" height="92.9" fill="#54ffff"/>
<rect x="755.2" y="601.4" width="10.5" height="112.1" fill="#54ffff"/>
<rect x="768.6" y="635.8" width="10.5" height="77.7" fill="#54ffff"/>
<rect x="781.9" y="631" width="10.5" height="82.5" fill="#54ffff"/>
<rect x="793.8" y="626.7" width="10.5" height="86.8" fill="#ff3232"/>
<rect x="807.5" y="624.5" width="10.5" height="89" fill="#54ffff"/>
<rect x="819.4" y="604" width="10.5" height="109.5" fill="#ff3232"/>
<rect x="833" y="625" width="10.5" height="88.5" fill="#ff3232"/>
<rect x="846.3" y="619.4" width="10.5" height="94.1" fill="#ff3232"/>
<rect x="858.2" y="628.1" width="10.5" height="85.4" fill="#54ffff"/>
<rect x="872.2" y="623" width="10.5" height="90.5" fill="#54ffff"/>
<rect x="885.4" y="626.2" width="10.5" height="87.3" fill="#ff3232"/>
<rect x="897.7" y="631" width="10.5" height="82.5" fill="#54ffff"/>
<rect x="911" y="628.6" width="10.5" height="84.9" fill="#ff3232"/>
<rect x="924.7" y="628.6" width="10.5" height="84.9" fill="#ff3232"/>
<rect x="936.7" y="630.5" width="10.5" height="83" fill="#54ffff"/>
<rect x="950" y="631" width="10.5" height="82.5" fill="#ff3232"/>
<rect x="963.3" y="637" width="10.5" height="76.5" fill="#54ffff"/>
<rect x="975.4" y="617.7" width="10.5" height="95.8" fill="#ff3232"/>
<rect x="989" y="626.2" width="10.5" height="87.3" fill="#54ffff"/>
<rect x="1001" y="633.9" width="10.5" height="79.6" fill="#54ffff"/>
<rect x="1014.5" y="630.3" width="10.5" height="83.2" fill="#54ffff"/>
<rect x="1028" y="638.2" width="10.5" height="75.3" fill="#54ffff"/>
<rect x="1040" y="632.7" width="10.5" height="80.8" fill="#ff3232"/>
<rect x="1053.3" y="617.7" width="10.5" height="95.8" fill="#ff3232"/>
<rect x="1067" y="617.7" width="10.5" height="95.8" fill="#54ffff"/>
<rect x="1079.5" y="623.8" width="10.5" height="89.7" fill="#54ffff"/>
<rect x="1092.4" y="614.9" width="10.5" height="98.6" fill="#54ffff"/>
<rect x="1106" y="623.8" width="10.5" height="89.7" fill="#54ffff"/>
<rect x="1118" y="634.1" width="10.5" height="79.4" fill="#ff3232"/>
<rect x="1131.5" y="635.8" width="10.5" height="77.7" fill="#54ffff"/>
<rect x="1145.2" y="620.6" width="10.5" height="92.9" fill="#54ffff"/>
<rect x="1157.3" y="619.4" width="10.5" height="94.1" fill="#54ffff"/>
<rect x="1170.7" y="632.7" width="10.5" height="80.8" fill="#54ffff"/>
<rect x="1183.8" y="623.8" width="10.5" height="89.7" fill="#ff3232"/>
<rect x="1196.1" y="605.7" width="10.5" height="107.8" fill="#ff3232"/>
<rect x="1209.5" y="619.4" width="10.5" height="94.1" fill="#54ffff"/>
<rect x="1221.4" y="614.9" width="10.5" height="98.6" fill="#ff3232"/>
<rect x="1235.2" y="640.1" width="10.5" height="73.4" fill="#ff3232"/>
<rect x="1248.6" y="620.6" width="10.5" height="92.9" fill="#ff3232"/>
<rect x="1260.5" y="608.9" width="10.5" height="104.6" fill="#54ffff"/>
<rect x="1274.1" y="629.8" width="10.5" height="83.7" fill="#ff3232"/>
<rect x="1287.4" y="631.2" width="10.5" height="82.3" fill="#54ffff"/>
<rect x="1299.5" y="643.2" width="10.5" height="70.3" fill="#54ffff"/>
<rect x="1313" y="640.1" width="10.5" height="73.4" fill="#54ffff"/>
<rect x="1326.4" y="596.7" width="10.5" height="116.8" fill="#54ffff"/>
<rect x="1338.1" y="607.3" width="10.5" height="106.2" fill="#ff3232"/>
<rect x="1352" y="629.8" width="10.5" height="83.7" fill="#54ffff"/>
<rect x="1365.4" y="625.1" width="10.5" height="88.4" fill="#54ffff"/>
<rect x="1377.8" y="613.6" width="10.5" height="99.9" fill="#ff3232"/>
<rect x="1391" y="616.6" width="10.5" height="96.9" fill="#54ffff"/>
<rect x="1404.3" y="607.1" width="10.5" height="106.4" fill="#ff3232"/>
<rect x="1416.3" y="569.8" width="10.5" height="143.7" fill="#ff3232"/>
<polyline fill="none" stroke="#ffff00" stroke-width="1.2" points="8.8,606.6 20.9,607 34.1,607.7 47.5,608.5 59.8,610.6 73.2,610.6 86.7,610.6 98.8,610 112.2,609.5 126,610.1 137.8,610.5 151.2,610.5 163.1,609.9 176.6,607.9 190.4,607.2 202.2,606.8 215.7,610.1 229.1,611.9 241.7,614.4 254.8,615.6 268.2,617.9 280.4,620.4 293.8,622.4 307.6,625.9 319.2,628 332.6,628 346.4,625.3 358.1,624.3 371.6,623.5 383.9,623.2 397.2,623.4 410.8,621.3 423.1,619.7 436.3,618.6 449.4,614.7 461.9,612.6 475.4,611.4 488.9,611.1 500.8,611.5 514.2,609.2 527.6,608.2 540,608 553.1,606.2 566.6,601.2 578.6,599.9 592.2,599.5 604.1,600.5 617.5,599.4 631.2,598.5 643.4,599.6 656.6,597.2 670.2,594.3 682.4,593.7 695.5,594.5 709.5,596.3 721.2,597.8 734.8,600.5 748.2,603.1 760.5,602.4 773.9,604.8 787.1,608.5 799,612.9 812.8,616.3 824.6,618.8 838.2,621 851.5,621.8 863.5,621.6 877.5,621.9 890.6,624.4 903,623.9 916.2,623.6 930,623.8 942,624.4 955.2,627.1 968.5,628.3 980.6,628.2 994.2,628 1006.2,629.1 1019.8,629.5 1033.2,630.2 1045.2,630.6 1058.5,629.5 1072.2,628.2 1084.8,627.5 1097.7,625.3 1111.2,625.9 1123.2,626.7 1136.8,626.9 1150.5,625.9 1162.5,624 1176,624 1189,624.7 1201.3,623.5 1214.8,623 1226.7,623 1240.5,624.6 1253.8,623.3 1265.8,620.6 1279.3,621.5 1292.7,622.7 1304.8,623.8 1318.2,625.4 1331.7,624.5 1343.3,623.3 1357.2,624.8 1370.7,623.3 1383.1,622.6 1396.2,623.3 1409.5,621.1 1421.5,614.9"/>
<polyline fill="none" stroke="#ffffff" stroke-width="1.2" points="8.8,603.4 20.9,603.5 34.1,606.8 47.5,608 59.8,613.5 73.2,618.3 86.7,615.9 98.8,612.9 112.2,609 126,606.8 137.8,602.7 151.2,605.2 163.1,606.9 176.6,606.9 190.4,607.5 202.2,611 215.7,615.1 229.1,617 241.7,621.9 254.8,623.6 268.2,624.7 280.4,625.7 293.8,627.8 307.6,629.9 319.2,632.4 332.6,631.3 346.4,625 358.1,620.8 371.6,617 383.9,614 397.2,615.5 410.8,617.7 423.1,618.7 436.3,620.1 449.4,615.3 461.9,609.6 475.4,605 488.9,603.4 500.8,602.9 514.2,603.2 527.6,606.8 540,611 553.1,608.9 566.6,599.5 578.6,596.5 592.2,592.3 604.1,590.1 617.5,589.9 631.2,597.4 643.4,602.8 656.6,602.2 670.2,598.5 682.4,597.5 695.5,591.5 709.5,589.8 721.2,593.3 734.8,602.6 748.2,608.6 760.5,613.2 773.9,619.8 787.1,623.7 799,623.1 812.8,623.9 824.6,624.4 838.2,622.2 851.5,619.9 863.5,620.2 877.5,619.9 890.6,624.3 903,625.5 916.2,627.4 930,627.5 942,629 955.2,629.9 968.5,631.1 980.6,629 994.2,628.5 1006.2,629.2 1019.8,629 1033.2,629.3 1045.2,632.3 1058.5,630.6 1072.2,627.3 1084.8,626 1097.7,621.4 1111.2,619.6 1123.2,622.9 1136.8,626.5 1150.5,625.8 1162.5,626.7 1176,628.5 1189,626.5 1201.3,620.4 1214.8,620.2 1226.7,619.3 1240.5,620.8 1253.8,620.1 1265.8,620.8 1279.3,622.9 1292.7,626.1 1304.8,626.7 1318.2,630.6 1331.7,628.2 1343.3,623.7 1357.2,623.4 1370.7,619.8 1383.1,614.5 1396.2,618.5 1409.5,618.4 1421.5,606.4"/>
</g>
<text x="2" y="558.5" fill="#c8c8c8" font-size="18" textLength="193" lengthAdjust="spacingAndGlyphs">VOLUME: 67040368.00</text>
<text x="201" y="558.5" fill="#ffffff" font-size="18" textLength="153" lengthAdjust="spacingAndGlyphs">MA5: 50011820.00</text>
<text x="361.8" y="558.5" fill="#ffff00" font-size="18" textLength="163.2" lengthAdjust="spacingAndGlyphs">MA10: 45947512.00</text>
<text x="1489" y="592" fill="#c00000" font-size="17">6</text>
<text x="1489" y="633.8" fill="#c00000" font-size="17">4</text>
<text x="1489" y="677.5" fill="#c00000" font-size="17">2</text>
<rect x="1469" y="693" width="27" height="1.5" fill="#a80000"/>
<text x="1472.5" y="710.5" fill="#c00000" font-size="17">X10</text>
<polyline clip-path="url(#kdj)" fill="none" stroke="#ffff00" stroke-width="1.2" points="8.8,775.8 20.9,779.2 34.1,779.2 47.5,782.2 59.8,791.2 73.2,797.2 86.7,798.2 98.8,794.2 112.2,794.2 126,797.2 137.8,806.8 151.2,817.1 163.1,827.5 176.6,836.6 190.4,842.1 202.2,846.8 215.7,850.4 229.1,850 241.7,847.8 254.8,845.2 268.2,844.8 280.4,846.5 293.8,844.6 307.6,845.6 319.2,848.1 332.6,851.2 346.4,853.7 358.1,854.3 371.6,856.2 383.9,856.1 397.2,855.6 410.8,853.5 423.1,851.7 436.3,850.3 449.4,841.4 461.9,831.2 475.4,819.5 488.9,813.3 500.8,814.6 514.2,818.3 527.6,817.4 540,813.2 553.1,811.8 566.6,805.8 578.6,798.8 592.2,792.2 604.1,785.9 617.5,782.7 631.2,784.3 643.4,785.8 656.6,785.2 670.2,784 682.4,783.1 695.5,787.2 709.5,794.5 721.2,805.3 734.8,815.8 748.2,826.4 760.5,834 773.9,841.4 787.1,847.5 799,849.9 812.8,852.3 824.6,850.3 838.2,845 851.5,837.2 863.5,827.2 877.5,822 890.6,821.5 903,826.3 916.2,830.1 930,831.1 942,832.5 955.2,832.1 968.5,831.7 980.6,826.2 994.2,817.1 1006.2,808.9 1019.8,804.8 1033.2,809.8 1045.2,814.8 1058.5,817.3 1072.2,822.2 1084.8,828.6 1097.7,834.4 1111.2,840.9 1123.2,845.6 1136.8,850 1150.5,851 1162.5,853.5 1176,855.8 1189,854.7 1201.3,850.7 1214.8,844.3 1226.7,832.4 1240.5,820.6 1253.8,809.7 1265.8,803.4 1279.3,798.5 1292.7,803.3 1304.8,811.8 1318.2,820.4 1331.7,829.3 1343.3,835.3 1357.2,840.6 1370.7,845.7 1383.1,849 1396.2,852.8 1409.5,851.8 1421.5,844.2"/>
<polyline clip-path="url(#kdj)" fill="none" stroke="#ffffff" stroke-width="1.2" points="8.8,776.2 20.9,785.2 34.1,781.2 47.5,787.2 59.8,806.2 73.2,812.2 86.7,799.2 98.8,785.2 112.2,795.2 126,804.2 137.8,825.9 151.2,837.7 163.1,848.3 176.6,854.8 190.4,853.1 202.2,856.1 215.7,857.7 229.1,849.3 241.7,843.3 254.8,840 268.2,843.9 280.4,850.1 293.8,840.6 307.6,847.7 319.2,853.2 332.6,857.3 346.4,858.7 358.1,855.5 371.6,860.2 383.9,855.7 397.2,854.8 410.8,849.1 423.1,848.3 436.3,847.4 449.4,823.6 461.9,810.8 475.4,796.2 488.9,800.8 500.8,817.2 514.2,825.7 527.6,815.7 540,804.7 553.1,809 566.6,793.8 578.6,784.9 592.2,778.8 604.1,773.3 617.5,776.4 631.2,787.5 643.4,788.8 656.6,784 670.2,781.6 682.4,781.3 695.5,795.3 709.5,809.3 721.2,826.8 734.8,836.7 748.2,847.6 760.5,849.3 773.9,856 787.1,859.8 799,854.8 812.8,856.9 824.6,846.4 838.2,834.5 851.5,821.5 863.5,807.3 877.5,811.6 890.6,820.4 903,835.9 916.2,837.7 930,833.1 942,835.2 955.2,831.5 968.5,830.9 980.6,815.1 994.2,798.8 1006.2,792.7 1019.8,796.5 1033.2,819.7 1045.2,824.7 1058.5,822.3 1072.2,832.1 1084.8,841.4 1097.7,846 1111.2,853.8 1123.2,855.2 1136.8,858.8 1150.5,852.9 1162.5,858.4 1176,860.5 1189,852.5 1201.3,842.6 1214.8,831.4 1226.7,808.5 1240.5,797 1253.8,788.1 1265.8,790.6 1279.3,788.7 1292.7,812.9 1304.8,828.8 1318.2,837.7 1331.7,847 1343.3,847.4 1357.2,851 1370.7,856 1383.1,855.7 1396.2,860.2 1409.5,850 1421.5,828.9"/>
<polyline clip-path="url(#kdj)" fill="none" stroke="#ff00ff" stroke-width="1.2" points="8.8,776.2 20.9,795.8 34.1,781.2 47.5,800.2 59.8,836.3 73.2,840.3 86.7,802.2 98.8,769.1 112.2,796.2 126,820.3 137.8,864.2 151.2,879 163.1,889.9 176.6,891.1 190.4,875.1 202.2,874.8 215.7,872.3 229.1,847.7 241.7,834.2 254.8,829.6 268.2,842.2 280.4,857.2 293.8,832.6 307.6,851.9 319.2,863.3 332.6,869.4 346.4,868.6 358.1,858 371.6,868 383.9,855 397.2,853.1 410.8,840.4 423.1,841.4 436.3,841.6 449.4,787.9 461.9,770 475.4,749.6 488.9,775.9 500.8,822.4 514.2,840.4 527.6,812.3 540,787.7 553.1,803.4 566.6,769.9 578.6,757.1 592.2,752 604.1,748.2 617.5,763.7 631.2,794 643.4,794.8 656.6,781.5 670.2,776.9 682.4,777.6 695.5,811.5 709.5,838.9 721.2,869.8 734.8,878.6 748.2,890.1 760.5,879.9 773.9,885.3 787.1,884.3 799,864.5 812.8,866.3 824.6,838.5 838.2,813.3 851.5,790 863.5,767.5 877.5,790.8 890.6,818.3 903,855.2 916.2,852.9 930,837.1 942,840.8 955.2,830.1 968.5,829.3 980.6,793 994.2,762.2 1006.2,760.3 1019.8,780 1033.2,839.6 1045.2,844.6 1058.5,832.3 1072.2,852 1084.8,866.9 1097.7,869.3 1111.2,879.7 1123.2,874.3 1136.8,876.4 1150.5,856.8 1162.5,868.3 1176,869.8 1189,848.2 1201.3,826.5 1214.8,805.7 1226.7,760.9 1240.5,749.8 1253.8,744.7 1265.8,765.1 1279.3,769.2 1292.7,832.1 1304.8,862.9 1318.2,872.2 1331.7,882.4 1343.3,871.6 1357.2,872 1370.7,876.7 1383.1,868.9 1396.2,875.2 1409.5,846.3 1421.5,798.3"/>
<text x="2" y="734.4" fill="#c8c8c8" font-size="18" textLength="87.2" lengthAdjust="spacingAndGlyphs">KDJ(9,3,3)</text>
<text x="96.3" y="734.4" fill="#ffffff" font-size="18" textLength="67.1" lengthAdjust="spacingAndGlyphs">K: 36.74</text>
<text x="171.4" y="734.4" fill="#ffff00" font-size="18" textLength="69.2" lengthAdjust="spacingAndGlyphs">D: 22.90</text>
<text x="246.6" y="734.4" fill="#ff00ff" font-size="18" textLength="65.5" lengthAdjust="spacingAndGlyphs">J: 64.41</text>
<rect x="1467" y="715" width="2.5" height="178" fill="#a80000"/>
<rect x="2" y="891.5" width="1466" height="1.5" fill="#900000"/>
<rect x="1468" y="716" width="28" height="3" fill="#a80000"/>
<rect x="1468" y="890.5" width="28" height="2.5" fill="#a80000"/>
<rect x="1468" y="716" width="3" height="177" fill="#a80000"/>
<text x="1484" y="764.5" fill="#c00000" font-size="17">100</text>
<text x="1494" y="786.9" fill="#c00000" font-size="17">80</text>
<text x="1494" y="820.2" fill="#c00000" font-size="17">50</text>
<text x="1494" y="853.3" fill="#c00000" font-size="17">20</text>
</svg>
</body></html>
